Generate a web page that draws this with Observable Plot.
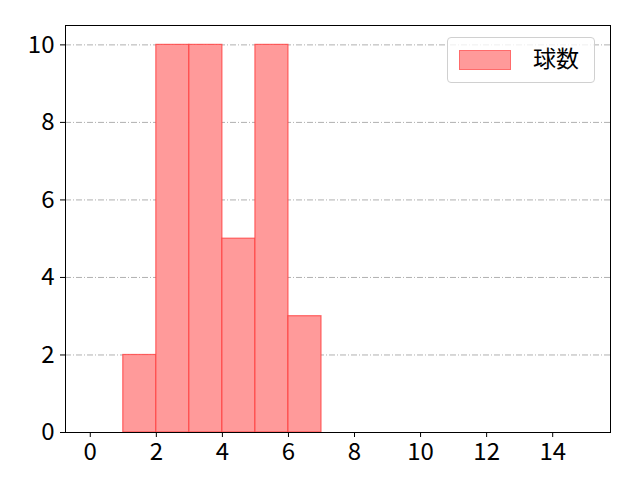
<!DOCTYPE html>
<html><head><meta charset="utf-8">
<script src="https://cdn.jsdelivr.net/npm/d3@7"></script>
<script src="https://cdn.jsdelivr.net/npm/@observablehq/plot@0.6"></script>
<style>
body{margin:0;background:#fff;}
#wrap{position:relative;width:640px;height:480px;}
#legend{position:absolute;left:447px;top:37px;width:148px;height:46px;border:1px solid #d0d0d0;border-radius:4px;background:rgba(255,255,255,0.8);box-sizing:border-box;font-family:"Noto Sans CJK JP",sans-serif;}
#legend .sw{position:absolute;left:11px;top:12px;width:52px;height:20px;background:#ff9a9a;border:1px solid #ff6b6b;box-sizing:border-box;}
#legend .tx{position:absolute;left:85px;top:2px;font-size:23px;color:#000;}
</style></head>
<body><div id="wrap"><div id="legend"><div class="sw"></div><div class="tx">球数</div></div></div>
<script>
const binStarts = [0,1,2,3,4,5,6,7,8,9,10,11,12,13,14];
const counts    = [0,2,10,10,5,10,3,0,0,0,0,0,0,0,0];
const xTicks = [0,2,4,6,8,10,12,14];
const yTicks = [0,2,4,6,8,10];
const seriesName = "球数";

const data = binStarts.map((s,i)=>({x1:s,x2:s+1,y:counts[i]}));

const chart = Plot.plot({
  width:640, height:480,
  marginLeft:65, marginRight:30, marginTop:25, marginBottom:48,
  style:{fontFamily:"'Noto Sans CJK JP', sans-serif", fontSize:"24px", background:"#fff"},
  x:{domain:[-0.75,15.75], ticks:xTicks, label:null},
  y:{domain:[0,10.5], ticks:yTicks, label:null},
  marks:[
    Plot.ruleY(yTicks.filter(d=>d>0), {stroke:"#b0b0b0", strokeWidth:1, strokeDasharray:"6,2,1,2"}),
    Plot.rectY(data, {x1:"x1", x2:"x2", y:"y", fill:"#ff9a9a", stroke:"#ff3b3b", strokeOpacity:0.75, strokeWidth:1.2, inset:0}),
    Plot.frame({stroke:"#000", strokeWidth:1}),
    Plot.axisX({ticks:xTicks, tickSize:5, tickPadding:5}),
    Plot.axisY({ticks:yTicks, tickSize:5, tickPadding:6})
  ]
});
chart.querySelectorAll("text").forEach(t=>{t.style.fontSize="24px";t.setAttribute("fill","#000");});
chart.querySelectorAll("g").forEach(g=>{if(g.getAttribute("font-size"))g.setAttribute("font-size","24");});
document.getElementById("wrap").prepend(chart);
</script></body></html>
